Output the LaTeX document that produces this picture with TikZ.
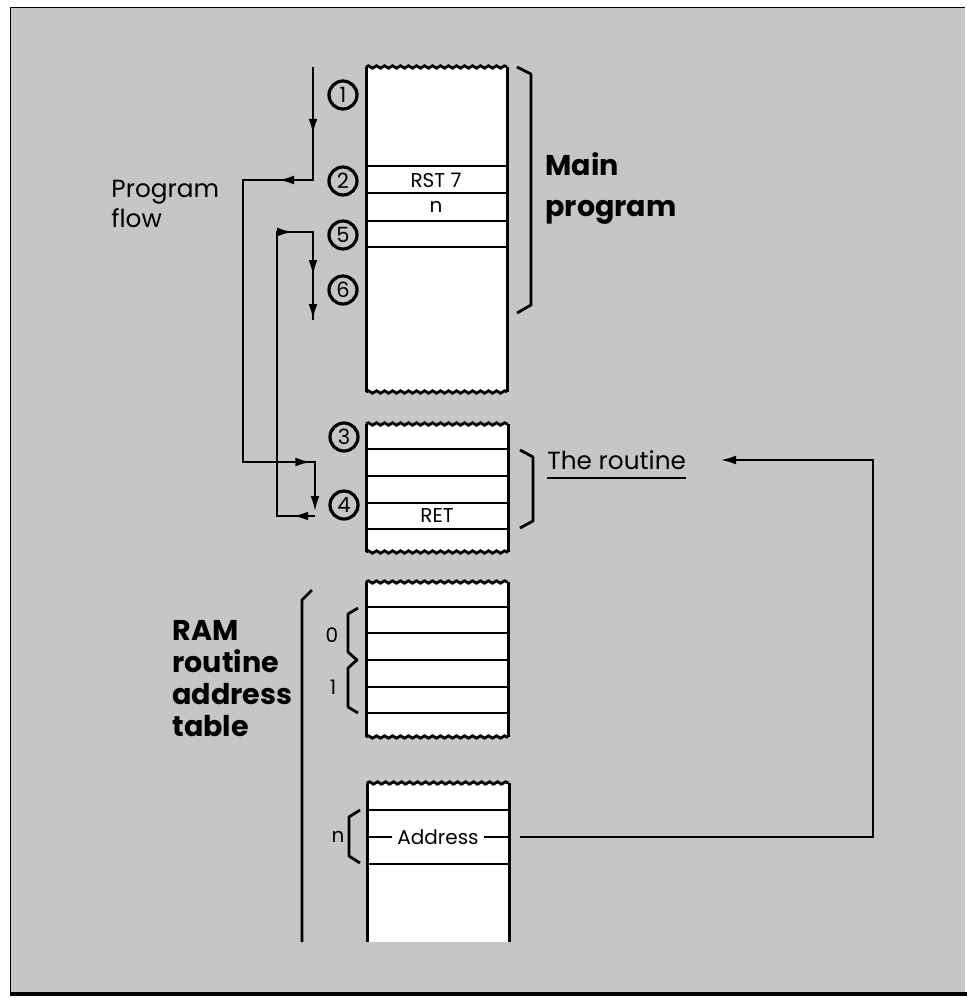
\documentclass[tikz,border=0pt]{standalone}
\usepackage{fontspec}
\setmainfont{Poppins}
\usetikzlibrary{arrows.meta,positioning,calc,decorations.pathmorphing,decorations.markings}
\definecolor{ScreenGray}{HTML}{C6C6C6}

\begin{document}
\begin{tikzpicture}[x=0.5pt,y=-0.5pt,
    every node/.style={font=\fontsize{10}{12}\selectfont},
    cellwall/.style={line width=1.5pt},
    rowline/.style={line width=1pt},
    torn/.style={line width=1.4pt,decorate,decoration={snake,amplitude=0.6pt,segment length=4pt}},
    numcirc/.style={circle,draw,line width=1.6pt,fill=ScreenGray,minimum size=14pt,inner sep=0pt,font=\fontsize{10.5}{11}\selectfont},
    flow/.style={line width=1.3pt,line join=miter},
    tipat/.style={postaction={decorate},decoration={markings,mark=at position #1 with {\arrow{Latex[length=8pt,width=4.4pt]}}}},
    brk/.style={line width=1.4pt,line join=round},
    bigbold/.style={font=\fontsize{14.3}{20.5}\selectfont\bfseries,align=left,inner sep=0pt},
    plainlbl/.style={font=\fontsize{12.4}{15}\selectfont,align=left,inner sep=0pt}
  ]
    \useasboundingbox (0,0) rectangle (967,998);
    \fill[ScreenGray] (10,7) rectangle (965,993);
    \draw[line width=0.5pt] (10,993) -- (10,7) -- (965,7);
    \draw[line width=2pt] (10,994) -- (967,994);

    % main program memory
    \fill[white] (366,67) rectangle (507,392);
    \draw[cellwall] (366,67) -- (366,392) (507,67) -- (507,392);
    \draw[torn] (366,67) -- (507,67);
    \draw[torn] (366,392) -- (507,392);
    \draw[rowline] (366,166) -- (507,166) (366,193) -- (507,193)
      (366,221) -- (507,221) (366,247) -- (507,247);
    \node (rst) at (436,180) {RST 7};
    \node (nbyte) at (436,207) {n};

    % the routine
    \fill[white] (366,424) rectangle (508,552);
    \draw[cellwall] (366,424) -- (366,552) (508,424) -- (508,552);
    \draw[torn] (366,424) -- (508,424);
    \draw[torn] (366,552) -- (508,552);
    \draw[rowline] (366,449) -- (508,449) (366,476) -- (508,476)
      (366,503) -- (508,503) (366,529) -- (508,529);
    \node (ret) at (437,516) {RET};

    % address table, first entries
    \fill[white] (366,582) rectangle (508,737);
    \draw[cellwall] (366,582) -- (366,737) (508,582) -- (508,737);
    \draw[torn] (366,582) -- (508,582);
    \draw[torn] (366,737) -- (508,737);
    \draw[rowline] (366,607) -- (508,607) (366,633) -- (508,633)
      (366,660) -- (508,660) (366,687) -- (508,687) (366,713) -- (508,713);

    % address table, entry n
    \fill[white] (367,783) rectangle (509,942);
    \draw[cellwall] (367,783) -- (367,942) (509,783) -- (509,942);
    \draw[torn] (367,783) -- (509,783);
    \draw[rowline] (367,810) -- (509,810) (367,864) -- (509,864);
    \node[inner sep=2.5pt] (addr) at (438,837) {Address};
    \draw[rowline] (367,837) -- (addr.west);
    \draw[rowline] (addr.east) -- (509,837);

    % step numbers
    \node[numcirc] (c1) at (343,95) {1};
    \node[numcirc] (c2) at (343,181) {2};
    \node[numcirc] (c5) at (343,235) {5};
    \node[numcirc] (c6) at (343,290) {6};
    \node[numcirc] (c3) at (344,437) {3};
    \node[numcirc] (c4) at (344,505) {4};

    % program flow
    \coordinate (a0) at (313,67);
    \coordinate (a1) at (313,180);
    \coordinate (a2) at (243,180);
    \coordinate (a3) at (243,462);
    \coordinate (a4) at (315,462);
    \coordinate (a5) at (315,512);
    \draw[flow,-{Latex[length=8pt,width=4.4pt]}] (a0) -- (a1) -- (a2) -- (a3) -- (a4) -- (a5);
    \draw[flow,tipat=0.6] (a0) -- (a1);
    \draw[flow,tipat=0.5] (a1) -- (a2);
    \draw[flow,tipat=0.95] (a3) -- (a4);
    \coordinate (b0) at (315,516);
    \coordinate (b1) at (277,516);
    \coordinate (b2) at (277,232);
    \coordinate (b3) at (313,232);
    \coordinate (b4) at (313,320);
    \draw[flow,-{Latex[length=8pt,width=4.4pt]}] (b0) -- (b1) -- (b2) -- (b3) -- (b4);
    \draw[flow,tipat=0.6] (b0) -- (b1);
    \draw[flow,tipat=0.45] (b2) -- (b3);
    \draw[flow,tipat=0.5] (b3) -- (b4);

    % brackets
    \draw[brk] (517,67) -- (531,74) -- (531,305) -- (517,313);
    \draw[brk] (520,450) -- (533,457) -- (533,521) -- (520,528);
    \draw[brk] (312,590) -- (302,600) -- (302,942);
    \draw[brk] (358,608) -- (348,614) -- (348,652) -- (357,660) -- (348,668) -- (348,707) -- (358,713);
    \draw[brk] (360,810) -- (349,817) -- (349,856) -- (360,863);
    \node (idx0) at (332,635) {0};
    \node (idx1) at (333,687) {1};
    \node (idxn) at (338,837) {n};

    % labels
    \node[plainlbl,anchor=north west] (flowlbl) at (111,180) {Program\\flow};
    \node[bigbold,anchor=north west] (mainlbl) at (545,152) {Main\\program};
    \node[bigbold,anchor=north west,font=\fontsize{14.3}{16}\selectfont\bfseries] (ramlbl) at (172,620) {RAM\\routine\\address\\table};
    \node[plainlbl,anchor=base west] (routine) at (547,469) {The routine};
    \draw[line width=1pt] ([yshift=-4pt]routine.south west) -- ([yshift=-4pt]routine.south east);

    % address to routine
    \coordinate (addrout) at (520,837);
    \coordinate (turn) at (873,837);
    \coordinate (routin) at (720,460);
    \draw[flow,-{Latex[length=8pt,width=4.4pt]}] (addrout) -- (turn) |- (routin);
  \end{tikzpicture}
\end{document}
